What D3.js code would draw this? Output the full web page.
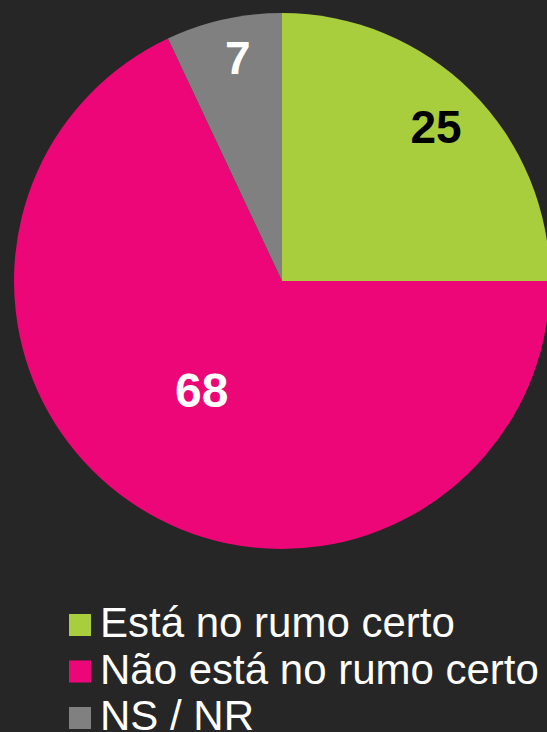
<!DOCTYPE html>
<html>
<head>
<meta charset="utf-8">
<script src="https://cdn.jsdelivr.net/npm/d3@7"></script>
<style>
  html, body { margin: 0; padding: 0; background: #262626; }
  svg { display: block; }
</style>
</head>
<body>
<div id="chart"></div>
<script>
// data
const categories = ['Está no rumo certo', 'Não está no rumo certo', 'NS / NR']
const values = [25, 68, 7]
const colors = ['#a8ce3e', '#ec0677', '#808080']
const labelColors = ['#000000', '#ffffff', '#ffffff']

const width = 547
const height = 732
const cx = 282, cy = 281, radius = 268

// value label placement: fraction of radius and small angle shift (deg)
const labelPlace = [
  {r: 0.813, shift: 0},
  {r: 0.505, shift: 4},
  {r: 0.85, shift: 1.4}
]
const labelSize = [46, 48, 46]

const svg = d3.select('#chart').append('svg')
  .attr('width', width)
  .attr('height', height)
  .style('font-family', '"Liberation Sans", Arial, sans-serif')

svg.append('rect')
  .attr('width', width)
  .attr('height', height)
  .style('fill', '#262626')

const pie = d3.pie().sort(null).value(d => d)
const arcs = pie(values)
const arc = d3.arc().innerRadius(0).outerRadius(radius)

const pad = svg.append('g')
  .attr('transform', `translate(${cx},${cy})`)

pad.selectAll('path.slice')
  .data(arcs)
  .enter().append('path')
  .attr('class', 'slice')
  .attr('d', arc)
  .style('fill', (d, i) => colors[i])

pad.selectAll('text.value')
  .data(arcs)
  .enter().append('text')
  .attr('class', 'value')
  .attr('transform', (d, i) => {
    let p = labelPlace[i]
    let a = (d.startAngle + d.endAngle) / 2 + p.shift * Math.PI / 180
    let r = radius * p.r
    return `translate(${Math.sin(a) * r},${-Math.cos(a) * r})`
  })
  .attr('text-anchor', 'middle')
  .attr('dy', '0.36em')
  .style('font-size', (d, i) => labelSize[i] + 'px')
  .style('font-weight', 'bold')
  .style('fill', (d, i) => labelColors[i])
  .text(d => d.data)

// legend
const legend = svg.append('g')
  .attr('transform', 'translate(69,614)')

const rows = legend.selectAll('g.row')
  .data(categories)
  .enter().append('g')
  .attr('class', 'row')
  .attr('transform', (d, i) => `translate(0,${i * 46.5})`)

rows.append('rect')
  .attr('width', 22)
  .attr('height', 22)
  .style('fill', (d, i) => colors[i])

rows.append('text')
  .attr('x', 31)
  .attr('y', 23)
  .style('font-size', '42px')
  .style('fill', '#ffffff')
  .text(d => d)
</script>
</body>
</html>
